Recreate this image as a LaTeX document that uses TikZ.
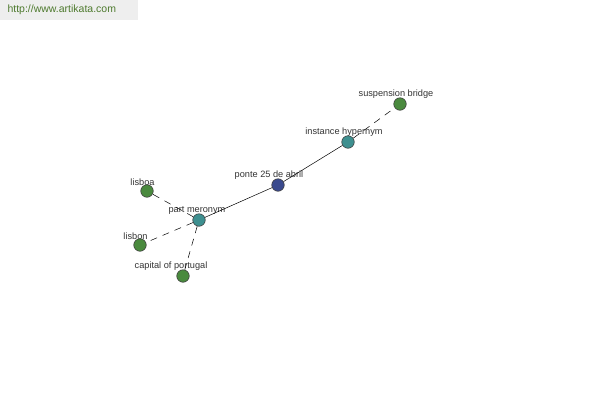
\documentclass[tikz,border=0pt]{standalone}
\usepackage{fontspec}
\setmainfont{Liberation Sans}
\usetikzlibrary{positioning}

\definecolor{leafgreen}{HTML}{4A8A3E}
\definecolor{relteal}{HTML}{3E9090}
\definecolor{rootblue}{HTML}{3A4A8E}
\definecolor{urlgreen}{HTML}{4E7A2E}
\definecolor{urlbg}{HTML}{EEEEEE}

\tikzset{
  word/.style={circle, draw=black!75, line width=0.6pt, minimum size=12.5pt, inner sep=0pt},
  lab/.style={font=\fontsize{9.2}{10}\selectfont, text=black!80, inner sep=0.5pt, yshift=-2pt},
  leaf/.style={word, fill=leafgreen},
  rel/.style={word, fill=relteal},
  root/.style={word, fill=rootblue},
  link/.style={black, line width=0.5pt},
  weak/.style={link, dash pattern=on 7pt off 6pt}
}

\begin{document}
\begin{tikzpicture}[x=1pt, y=-1pt]
  \useasboundingbox (0,0) rectangle (600,400);
  % site tag
  \fill[urlbg] (0,0) rectangle (138,20);
  \node[urlgreen, font=\fontsize{10.5}{12}\selectfont, anchor=west] (site) at (4,10) {http://www.artikata.com};

  % nodes
  \node[root, label={[lab, xshift=-9pt]above:ponte 25 de abril}] (ponte) at (278,185) {};
  \node[rel, label={[lab, xshift=-2pt]above:part meronym}] (part) at (199,220) {};
  \node[rel, label={[lab, xshift=-4pt]above:instance hypernym}] (inst) at (348,142) {};
  \node[leaf, label={[lab, xshift=-4pt]above:suspension bridge}] (bridge) at (400,104) {};
  \node[leaf, label={[lab, xshift=-4.5pt]above:lisboa}] (lisboa) at (147,191) {};
  \node[leaf, label={[lab, xshift=-4.5pt]above:lisbon}] (lisbon) at (140,245) {};
  \node[leaf, label={[lab, xshift=-12pt]above:capital of portugal}] (capital) at (183,276) {};

  % connectors
  \draw[link] (part) -- (ponte);
  \draw[link] (ponte) -- (inst);
  \draw[weak] (inst) -- (bridge);
  \draw[weak] (part) -- (lisboa);
  \draw[weak] (part) -- (lisbon);
  \draw[weak] (part) -- (capital);
\end{tikzpicture}
\end{document}
